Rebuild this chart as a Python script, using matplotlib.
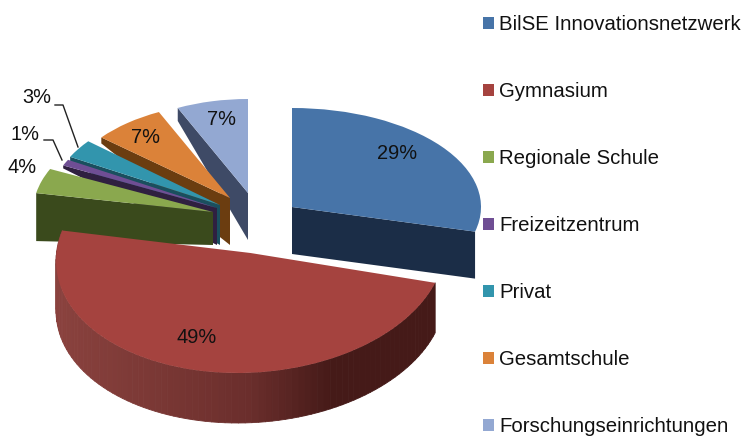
import matplotlib
matplotlib.use('Agg')
import matplotlib.pyplot as plt
import numpy as np
from matplotlib.collections import PolyCollection
from matplotlib.colors import to_rgb
from matplotlib.transforms import Affine2D

labels = ['BilSE Innovationsnetzwerk', 'Gymnasium', 'Regionale Schule',
          'Freizeitzentrum', 'Privat', 'Gesamtschule', 'Forschungseinrichtungen']
shares = [29, 49, 4, 1, 3, 7, 7]

top_colors = ['#4774a8', '#a5433f', '#8aa84e', '#6f4e94', '#3295ad', '#db8239', '#93a8d2']
wall_colors = ['#1b2d47', '#6a2a28', '#3a4a1c', '#2f2040', '#1a4f5e', '#6b3d10', '#3e4a66']

# every slice has its own place on the page, in pixels
cx = [292, 250.5, 213, 217, 220, 230, 248]
cy = [207, 253, 212, 208, 205, 198, 193]
rx = [189, 194, 180, 170, 171, 167, 165]
ry = [99, 120, 101, 100, 100, 95, 94]
shear = [0, 13, 0, 0, 0, 0, 0]
wall_inner = [47, 50, 33, 37, 40, 47, 47]
wall_outer = [47, 50, 48, 3, 5, 6, 13]
label_pos = [(397, 153), (197, 337), (22, 167), (25, 134), (37, 97), (146, 137), (222, 119)]

fig = plt.figure(figsize=(7.44, 4.44), dpi=100)
ax = fig.add_axes([0, 0, 1, 1])
plt.rcParams['font.family'] = ['Liberation Sans', 'DejaVu Sans']

wedges, _ = ax.pie(shares, startangle=90, counterclock=False, colors=top_colors)
ax.set_aspect('auto')
ax.set_xlim(0, 744)
ax.set_ylim(444, 0)


def edge_point(i, theta):
    x = np.cos(np.radians(theta))
    y = np.sin(np.radians(theta))
    return cx[i] + rx[i] * x + shear[i] * y, cy[i] - ry[i] * y


# back slices first, the big red one last
order = [0, 6, 5, 4, 3, 2, 1]
for z, i in enumerate(order):
    w = wedges[i]
    w.set_transform(Affine2D.from_values(rx[i], 0, shear[i], -ry[i], cx[i], cy[i]) + ax.transData)
    w.set_zorder(2 * z + 3)

    if i == 1:
        # round side of the red slice, shaded along the arc
        angles = np.linspace(w.theta1, w.theta2, 90)
        xs, ys = edge_point(i, angles)
        quads = []
        cols = []
        for k in range(len(angles) - 1):
            quads.append([(xs[k], ys[k]), (xs[k + 1], ys[k + 1]),
                          (xs[k + 1], ys[k + 1] + wall_outer[i]), (xs[k], ys[k] + wall_outer[i])])
            f = (xs[k] - 56) / 380.0
            c0 = np.array(to_rgb('#8a423e'))
            c1 = np.array(to_rgb('#6b2e2c'))
            c2 = np.array(to_rgb('#451a18'))
            if f < 0.5:
                cols.append(c0 + (c1 - c0) * f * 2)
            elif f < 0.72:
                cols.append(c1 + (c2 - c1) * (f - 0.5) / 0.22)
            else:
                cols.append(c2)
        ax.add_collection(PolyCollection(quads, facecolors=cols, edgecolors=cols,
                                         linewidths=0.6, zorder=2 * z + 2))
        continue

    # flat cut face below the slice edge that looks at the viewer
    theta = w.theta1 if i == 0 else w.theta2
    ex, ey = edge_point(i, theta)
    ax.fill([cx[i], ex, ex, cx[i]],
            [cy[i], ey, ey + wall_outer[i], cy[i] + wall_inner[i]],
            color=wall_colors[i], lw=0, zorder=2 * z + 2)

for s, (x, y) in zip(shares, label_pos):
    ax.text(x, y, f'{s}%', fontsize=14.4, ha='center', va='center', color='#111111', zorder=40)

# leader lines of the two smallest labels
ax.plot([55, 63, 78], [105, 105, 147], color='#222222', lw=1, zorder=40)
ax.plot([44, 53, 62], [140, 140, 160], color='#222222', lw=1, zorder=40)

ax.legend(wedges, labels, loc='upper left', bbox_to_anchor=(483 / 744, 1 - 15.5 / 444),
          frameon=False, fontsize=14.7, handlelength=0.56, handleheight=0.56,
          handletextpad=0.22, labelspacing=2.35, borderpad=0, borderaxespad=0,
          labelcolor='#111111')

fig.savefig('out.png', dpi=100)
